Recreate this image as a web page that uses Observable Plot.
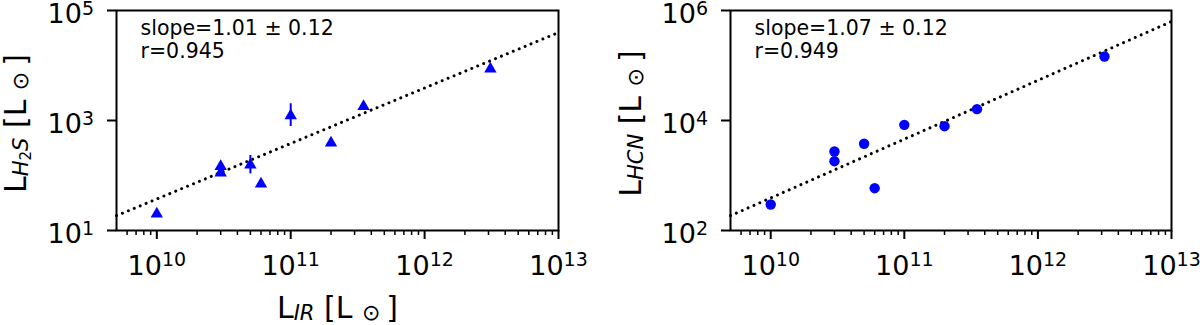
<!DOCTYPE html>
<html><head><meta charset="utf-8">
<script src="https://cdn.jsdelivr.net/npm/d3@7"></script>
<script src="https://cdn.jsdelivr.net/npm/@observablehq/plot@0.6"></script>
<style>
body{margin:0;background:#fff;}
#wrap{display:flex;width:1200px;height:325px;}
</style></head><body><div id="wrap"></div>
<script>
// ---- data ----
const h2sLIR = [1e10, 3e10, 3e10, 5e10, 6e10, 1e11, 2e11, 3.5e11, 3.1e12];
const h2sL   = [21.5, 157, 120, 167, 75.5, 1318, 421, 1930, 9300];
const h2sErrLIR  = [5e10, 1e11];
const h2sErrLow  = [107, 778];
const h2sErrHigh = [231, 2014];
const hcnLIR = [1e10, 3e10, 3e10, 5e10, 6e10, 1e11, 2e11, 3.5e11, 3.15e12];
const hcnL   = [297, 2730, 1820, 3770, 588, 8340, 7880, 16070, 145900];
const fitLIR = [5e9, 1e13];
const fitH2S = [18.6, 39800];
const fitHCN = [186, 631000];
const xDomain = [5e9, 1e13];
const xMajor = [1e10, 1e11, 1e12, 1e13];
const xMinor = [6e9,7e9,8e9,9e9, 2e10,3e10,4e10,5e10,6e10,7e10,8e10,9e10,
                2e11,3e11,4e11,5e11,6e11,7e11,8e11,9e11, 2e12,3e12,4e12,5e12,6e12,7e12,8e12,9e12];
const yDomainH2S = [10, 1e5];
const yMajorH2S = [1e1, 1e3, 1e5];
const yDomainHCN = [100, 1e6];
const yMajorHCN = [1e2, 1e4, 1e6];
const annotH2S = ["slope=1.01 \u00b1 0.12", "r=0.945"];
const annotHCN = ["slope=1.07 \u00b1 0.12", "r=0.949"];

const fmt = d => "10^" + Math.round(Math.log10(d));
const NS = "http://www.w3.org/2000/svg";
function rich(el, segs) {
  while (el.firstChild) el.removeChild(el.firstChild);
  let cur = 0;
  for (const s of segs) {
    const ts = document.createElementNS(NS, "tspan");
    ts.textContent = s.t;
    if (s.size) ts.setAttribute("font-size", s.size);
    if (s.italic) ts.setAttribute("font-style", "italic");
    const sh = s.shift || 0;
    if (sh !== cur) ts.setAttribute("dy", sh - cur);
    cur = sh;
    el.appendChild(ts);
  }
}

function panel(o) {
  const pts = o.xs.map((x, i) => ({x, y: o.ys[i]}));
  const fit = fitLIR.map((x, i) => ({x, y: o.fit[i]}));
  const marks = [
    Plot.line(fit, {x: "x", y: "y", stroke: "black", strokeWidth: 3, strokeDasharray: "0.01,6.4", strokeLinecap: "round"})
  ];
  if (o.err) marks.push(Plot.ruleX(o.err, {x: "x", y1: "lo", y2: "hi", stroke: "blue", strokeWidth: 2}));
  marks.push(Plot.dot(pts, {x: "x", y: "y", symbol: o.symbol, r: o.r, fill: "blue", stroke: "none", dy: o.symDy || 0}));
  marks.push(Plot.axisX({ticks: xMinor, tickSize: 5, strokeWidth: 1.5, tickFormat: () => "", label: null}));
  marks.push(Plot.axisX({ticks: xMajor, tickSize: 9, strokeWidth: 2, tickPadding: 16, tickFormat: fmt, fontSize: 27, label: null}));
  marks.push(Plot.axisY({ticks: o.yMajor, tickSize: 9, strokeWidth: 2, tickPadding: 13.5, tickFormat: fmt, fontSize: 27, label: null}));
  marks.push(Plot.frame({stroke: "black", strokeWidth: 2}));
  marks.push(Plot.text([o.annot.join("\n")], {frameAnchor: "top-left", dx: 24, dy: 7.5, textAnchor: "start", lineAnchor: "top", lineHeight: 1.14, fontSize: 20.5, text: d => d, fill: "black"}));
  marks.push(Plot.text(["@@ylabel"], {frameAnchor: "left", dx: o.ylabelDx, dy: 3, rotate: -90, textAnchor: "middle", lineAnchor: "middle", fontSize: 30, text: d => d, fill: "black"}));
  if (o.xlabel) marks.push(Plot.text(["@@xlabel"], {frameAnchor: "bottom", dy: 77.4, textAnchor: "middle", lineAnchor: "middle", fontSize: 30, text: d => d, fill: "black"}));
  const svg = Plot.plot({
    width: 600, height: 325,
    marginLeft: o.ml, marginRight: o.mr, marginTop: 10, marginBottom: 95,
    x: {type: "log", domain: xDomain, label: null},
    y: {type: "log", domain: o.yDomain, label: null},
    style: {fontFamily: "DejaVu Sans", color: "black", background: "white", overflow: "visible"},
    marks
  });
  svg.querySelectorAll('g[aria-label="x-axis tick label"] text').forEach(t => {
    const m = /^10\^(\d+)$/.exec(t.textContent);
    if (m) rich(t, [{t: "10"}, {t: m[1], size: 19, shift: -9}]);
  });
  svg.querySelectorAll('g[aria-label="y-axis tick label"] text').forEach(t => {
    const m = /^10\^(\d+)$/.exec(t.textContent);
    if (m) rich(t, [{t: "10", shift: 4}, {t: m[1], size: 19, shift: -4}]);
  });
  svg.querySelectorAll("text").forEach(t => {
    if (t.textContent === "@@ylabel") rich(t, o.ylabelSegs);
    else if (t.textContent === "@@xlabel") rich(t, o.xlabelSegs);
  });
  return svg;
}

const sun = [{t: " [L "}, {t: "\u2299", size: 22, shift: 2}, {t: "\u2009]"}];
const wrap = document.getElementById("wrap");
wrap.appendChild(panel({
  xs: h2sLIR, ys: h2sL, fit: fitH2S, symbol: "triangle", r: 4.6, symDy: 1.7,
  err: h2sErrLIR.map((x, i) => ({x, lo: h2sErrLow[i], hi: h2sErrHigh[i]})),
  yDomain: yDomainH2S, yMajor: yMajorH2S, annot: annotH2S,
  ml: 116, mr: 42, ylabelDx: -100,
  ylabelSegs: [{t: "L"}, {t: "H", size: 21, italic: true, shift: 2}, {t: "2", size: 15, shift: 5}, {t: "S", size: 21, italic: true, shift: 2}, ...sun],
  xlabel: true,
  xlabelSegs: [{t: "L"}, {t: "IR", size: 21, italic: true, shift: 2}, ...sun]
}));
wrap.appendChild(panel({
  xs: hcnLIR, ys: hcnL, fit: fitHCN, symbol: "circle", r: 5.2,
  yDomain: yDomainHCN, yMajor: yMajorHCN, annot: annotHCN,
  ml: 130, mr: 29, ylabelDx: -99.6,
  ylabelSegs: [{t: "L"}, {t: "HCN", size: 21, italic: true, shift: 2}, ...sun],
  xlabel: false
}));
</script></body></html>
